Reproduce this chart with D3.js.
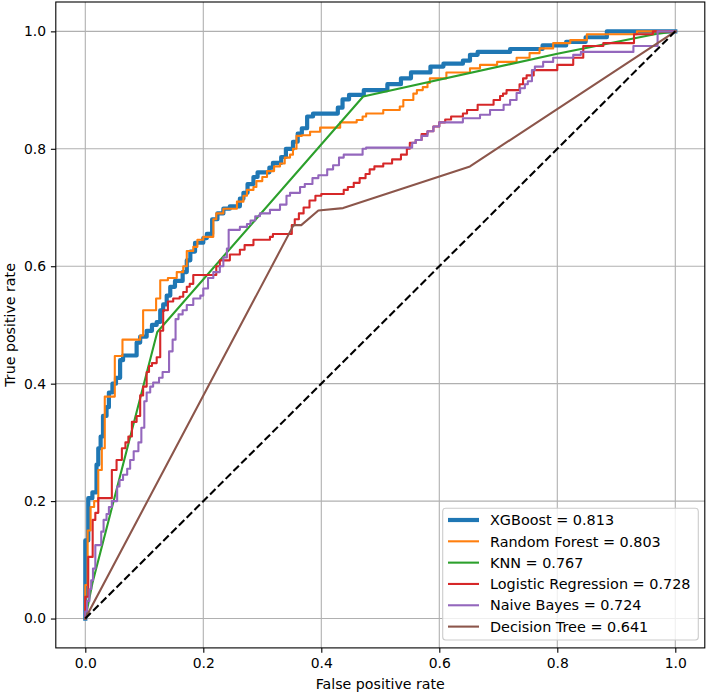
<!DOCTYPE html>
<html>
<head>
<meta charset="utf-8">
<script src="https://cdn.jsdelivr.net/npm/d3@7"></script>
<style>
  html, body { margin: 0; padding: 0; background: #fff; }
  svg { display: block; }
  text { font-family: "DejaVu Sans", sans-serif; }
</style>
</head>
<body>
<svg id="chart" width="708" height="694"></svg>
<script>
// ---------------- DATA ----------------
const modelNames = ["XGBoost", "Random Forest", "KNN", "Logistic Regression", "Naive Bayes", "Decision Tree"];
const aucValues = [0.813, 0.803, 0.767, 0.728, 0.724, 0.641];
const tickValues = [0.0, 0.2, 0.4, 0.6, 0.8, 1.0];
const xLabel = "False positive rate";
const yLabel = "True positive rate";

// staircase ROC points [fpr, tpr] (rise at previous fpr, then run to this fpr)
const xgboostRoc = [[0,0],[0.005,0.133],[0.012,0.205],[0.019,0.215],[0.022,0.262],[0.026,0.29],[0.03,0.31],[0.036,0.345],[0.04,0.36],[0.046,0.385],[0.052,0.40],[0.059,0.41],[0.064,0.44],[0.087,0.448],[0.093,0.47],[0.104,0.48],[0.113,0.49],[0.121,0.50],[0.127,0.505],[0.132,0.525],[0.138,0.535],[0.144,0.55],[0.152,0.565],[0.165,0.575],[0.172,0.59],[0.178,0.61],[0.186,0.625],[0.2,0.64],[0.206,0.648],[0.215,0.655],[0.224,0.68],[0.234,0.69],[0.245,0.698],[0.262,0.702],[0.268,0.715],[0.275,0.725],[0.285,0.74],[0.292,0.752],[0.312,0.76],[0.318,0.768],[0.332,0.776],[0.34,0.786],[0.352,0.80],[0.36,0.812],[0.367,0.826],[0.376,0.835],[0.386,0.855],[0.428,0.86],[0.436,0.87],[0.447,0.884],[0.472,0.892],[0.512,0.9],[0.535,0.91],[0.552,0.92],[0.585,0.93],[0.607,0.94],[0.64,0.945],[0.652,0.95],[0.665,0.96],[0.72,0.965],[0.775,0.97],[0.815,0.976],[0.848,0.982],[0.884,0.99],[1,1]];
const randomForestRoc = [[0,0],[0.004,0.057],[0.009,0.15],[0.015,0.19],[0.022,0.2],[0.028,0.253],[0.033,0.29],[0.05,0.378],[0.063,0.447],[0.093,0.475],[0.098,0.482],[0.12,0.525],[0.127,0.545],[0.14,0.576],[0.155,0.58],[0.166,0.59],[0.172,0.60],[0.183,0.626],[0.19,0.633],[0.2,0.645],[0.217,0.65],[0.222,0.68],[0.234,0.69],[0.257,0.698],[0.268,0.71],[0.274,0.72],[0.285,0.73],[0.29,0.735],[0.3,0.745],[0.308,0.752],[0.32,0.762],[0.33,0.77],[0.338,0.775],[0.347,0.785],[0.352,0.79],[0.358,0.80],[0.367,0.822],[0.381,0.823],[0.398,0.829],[0.432,0.836],[0.46,0.845],[0.47,0.849],[0.476,0.855],[0.505,0.86],[0.533,0.866],[0.539,0.872],[0.556,0.883],[0.562,0.894],[0.572,0.9],[0.58,0.905],[0.584,0.912],[0.612,0.92],[0.652,0.93],[0.669,0.937],[0.698,0.943],[0.731,0.948],[0.753,0.955],[0.77,0.963],[0.793,0.971],[0.822,0.98],[0.85,0.985],[0.935,0.995],[1,1]];
const knnRoc = [[0,0],[0.012,0.06],[0.122,0.488],[0.471,0.889],[0.8,0.962],[0.965,0.995],[1,1]];
const logisticRoc = [[0,0],[0.005,0.037],[0.0125,0.105],[0.017,0.168],[0.022,0.18],[0.045,0.205],[0.053,0.253],[0.062,0.27],[0.068,0.29],[0.073,0.30],[0.079,0.31],[0.087,0.335],[0.093,0.345],[0.098,0.38],[0.104,0.395],[0.108,0.42],[0.113,0.43],[0.121,0.435],[0.127,0.445],[0.132,0.49],[0.14,0.525],[0.149,0.54],[0.16,0.545],[0.166,0.548],[0.172,0.556],[0.177,0.565],[0.183,0.57],[0.222,0.585],[0.228,0.6],[0.245,0.61],[0.262,0.62],[0.27,0.628],[0.285,0.636],[0.313,0.645],[0.318,0.65],[0.35,0.655],[0.355,0.67],[0.362,0.68],[0.37,0.69],[0.38,0.70],[0.39,0.712],[0.4,0.72],[0.438,0.723],[0.445,0.73],[0.455,0.735],[0.465,0.742],[0.475,0.75],[0.482,0.757],[0.49,0.765],[0.505,0.77],[0.52,0.775],[0.535,0.782],[0.545,0.79],[0.55,0.8],[0.56,0.81],[0.57,0.815],[0.58,0.825],[0.59,0.83],[0.6,0.838],[0.61,0.845],[0.62,0.85],[0.64,0.855],[0.647,0.86],[0.665,0.866],[0.692,0.875],[0.703,0.883],[0.708,0.89],[0.714,0.894],[0.736,0.9],[0.742,0.91],[0.748,0.92],[0.76,0.925],[0.8,0.934],[0.827,0.943],[0.844,0.955],[0.878,0.975],[0.93,0.98],[0.962,0.995],[1,1]];
const naiveBayesRoc = [[0,0],[0.003,0.012],[0.007,0.03],[0.01,0.05],[0.013,0.065],[0.017,0.085],[0.027,0.125],[0.031,0.148],[0.036,0.168],[0.04,0.178],[0.045,0.19],[0.054,0.2],[0.058,0.225],[0.064,0.236],[0.071,0.245],[0.076,0.255],[0.082,0.27],[0.09,0.285],[0.095,0.3],[0.1,0.325],[0.104,0.37],[0.11,0.385],[0.115,0.395],[0.125,0.402],[0.131,0.41],[0.142,0.42],[0.148,0.455],[0.153,0.475],[0.158,0.51],[0.165,0.518],[0.172,0.525],[0.183,0.534],[0.195,0.545],[0.2,0.55],[0.208,0.562],[0.217,0.58],[0.228,0.59],[0.234,0.6],[0.24,0.615],[0.243,0.63],[0.262,0.662],[0.274,0.667],[0.28,0.672],[0.288,0.678],[0.296,0.685],[0.313,0.69],[0.33,0.696],[0.341,0.705],[0.347,0.72],[0.364,0.725],[0.372,0.735],[0.385,0.74],[0.395,0.75],[0.41,0.755],[0.42,0.765],[0.43,0.772],[0.438,0.785],[0.47,0.79],[0.476,0.8],[0.554,0.802],[0.56,0.81],[0.57,0.815],[0.58,0.822],[0.59,0.83],[0.6,0.838],[0.64,0.845],[0.669,0.852],[0.686,0.858],[0.709,0.866],[0.72,0.875],[0.731,0.883],[0.737,0.895],[0.745,0.903],[0.75,0.91],[0.757,0.915],[0.762,0.934],[0.776,0.94],[0.793,0.948],[0.827,0.955],[0.84,0.96],[0.929,0.965],[0.97,0.975],[1,1]];
const decisionTreeRoc = [[0,0],[0.353,0.67],[0.366,0.67],[0.395,0.695],[0.437,0.699],[0.652,0.77],[1,1]];
const chanceLine = [[0,0],[1,1]];

const modelColors = ["#1f77b4", "#ff7f0e", "#2ca02c", "#d62728", "#9467bd", "#8c564b"];
const modelWidths = [4.2, 2.1, 2.1, 2.1, 2.1, 2.1];
const modelStep = [true, true, false, true, true, false];
const rocSeries = [xgboostRoc, randomForestRoc, knnRoc, logisticRoc, naiveBayesRoc, decisionTreeRoc];

// ---------------- LAYOUT ----------------
const svg = d3.select("#chart");
const plotLeft = 55.8, plotRight = 704.8, plotTop = 2, plotBottom = 647.9;
const tickFont = 13.9, labelFont = 14.2, legendFont = 14.4;

const x = d3.scaleLinear().domain([-0.05, 1.05]).range([plotLeft, plotRight]);
const y = d3.scaleLinear().domain([-0.05, 1.05]).range([plotBottom, plotTop]);

// grid
const grid = svg.append("g");
grid.selectAll("line.gx").data(tickValues).join("line")
  .attr("x1", d => x(d)).attr("x2", d => x(d))
  .attr("y1", plotTop).attr("y2", plotBottom)
  .attr("stroke", "#b0b0b0").attr("stroke-width", 1.1);
grid.selectAll("line.gy").data(tickValues).join("line")
  .attr("y1", d => y(d)).attr("y2", d => y(d))
  .attr("x1", plotLeft).attr("x2", plotRight)
  .attr("stroke", "#b0b0b0").attr("stroke-width", 1.1);

// clip
svg.append("clipPath").attr("id", "clip").append("rect")
  .attr("x", plotLeft).attr("y", plotTop)
  .attr("width", plotRight - plotLeft).attr("height", plotBottom - plotTop);

const lines = svg.append("g").attr("clip-path", "url(#clip)");
rocSeries.forEach((data, i) => {
  const gen = d3.line().x(d => x(d[0])).y(d => y(d[1]))
    .curve(modelStep[i] ? d3.curveStepBefore : d3.curveLinear);
  lines.append("path").datum(data)
    .attr("d", gen)
    .attr("fill", "none")
    .attr("stroke", modelColors[i])
    .attr("stroke-width", modelWidths[i])
    .attr("stroke-linejoin", "round")
    .attr("stroke-linecap", "square");
});
lines.append("path").datum(chanceLine)
  .attr("d", d3.line().x(d => x(d[0])).y(d => y(d[1])))
  .attr("fill", "none")
  .attr("stroke", "#000")
  .attr("stroke-width", 2.1)
  .attr("stroke-dasharray", "7.7,3.3");

// axes
const fmt = d3.format(".1f");
const xAxis = svg.append("g").attr("transform", `translate(0,${plotBottom})`)
  .call(d3.axisBottom(x).tickValues(tickValues).tickFormat(fmt).tickSize(4.9).tickPadding(4.9));
const yAxis = svg.append("g").attr("transform", `translate(${plotLeft},0)`)
  .call(d3.axisLeft(y).tickValues(tickValues).tickFormat(fmt).tickSize(4.9).tickPadding(4.9));
[xAxis, yAxis].forEach(a => {
  a.select(".domain").remove();
  a.selectAll(".tick line").attr("stroke", "#000").attr("stroke-width", 1.1);
  a.selectAll(".tick text").attr("font-size", tickFont).attr("fill", "#000")
    .attr("font-family", "DejaVu Sans");
});

// spines
svg.append("rect")
  .attr("x", plotLeft).attr("y", plotTop)
  .attr("width", plotRight - plotLeft).attr("height", plotBottom - plotTop)
  .attr("fill", "none").attr("stroke", "#000").attr("stroke-width", 1.1);

// axis labels
svg.append("text")
  .attr("x", (plotLeft + plotRight) / 2).attr("y", 689)
  .attr("text-anchor", "middle").attr("font-size", labelFont)
  .text(xLabel);
svg.append("text")
  .attr("transform", `translate(15,${(plotTop + plotBottom) / 2}) rotate(-90)`)
  .attr("text-anchor", "middle").attr("font-size", labelFont)
  .text(yLabel);

// legend
const legend = svg.append("g");
const lgX = 442.7, lgY = 508.3, lgW = 255.6, lgH = 131.7;
legend.append("rect")
  .attr("x", lgX).attr("y", lgY).attr("width", lgW).attr("height", lgH)
  .attr("rx", 3).attr("ry", 3)
  .attr("fill", "#fff").attr("fill-opacity", 0.8)
  .attr("stroke", "#cccccc").attr("stroke-width", 1.1);
const rowY = d3.scaleLinear().domain([0, 5]).range([520, 626.6]);
modelNames.forEach((name, i) => {
  legend.append("line")
    .attr("x1", 448).attr("x2", 479)
    .attr("y1", rowY(i)).attr("y2", rowY(i))
    .attr("stroke", modelColors[i]).attr("stroke-width", modelWidths[i]);
  legend.append("text")
    .attr("x", 490).attr("y", rowY(i)).attr("dy", "0.36em")
    .attr("font-size", legendFont)
    .text(`${name} = ${aucValues[i].toFixed(3)}`);
});
</script>
</body>
</html>
